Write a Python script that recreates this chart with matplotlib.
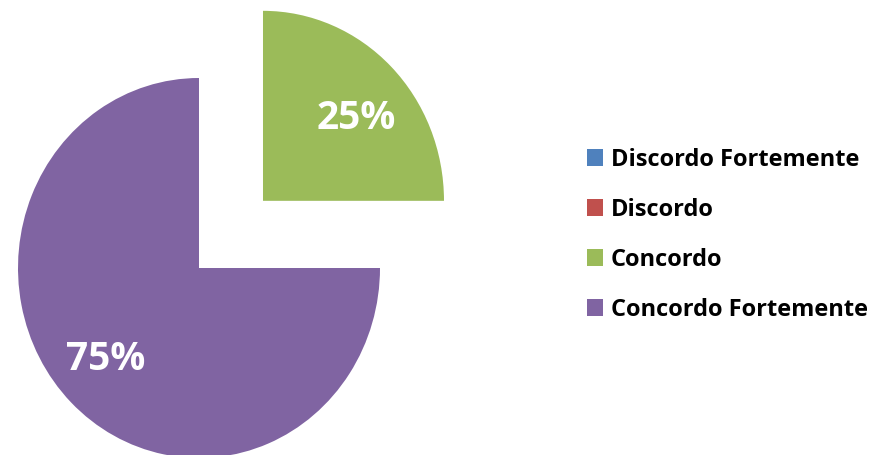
import matplotlib
matplotlib.use("Agg")
import matplotlib.pyplot as plt
from matplotlib.patches import Patch

categories = ["Discordo Fortemente", "Discordo", "Concordo", "Concordo Fortemente"]
values = [0, 0, 25, 75]
colors = ["#4F81BD", "#C0504D", "#9BBB59", "#8064A2"]
explode = [0, 0, 0.5, 0]

W, H = 882, 455
fig = plt.figure(figsize=(W / 100, H / 100), dpi=100)
fig.patch.set_facecolor("white")
ax = fig.add_axes([0, 0, 1, 1])

def fmt(p):
    return f"{p:.0f}%" if p > 0.5 else ""

wedges, texts, autotexts = ax.pie(
    values, colors=colors, explode=explode, startangle=90, counterclock=False,
    autopct=fmt, pctdistance=0.73, wedgeprops=dict(linewidth=0),
    textprops=dict(color="white", fontsize=28, fontweight="bold", family=["Open Sans", "DejaVu Sans"]),
)
# Excel-like label placement: slightly flatter vertical offset
for w, t in zip(wedges, autotexts):
    wx, wy = w.center
    x, y = t.get_position()
    t.set_position((x, wy + (y - wy) * 0.89))
    t.set_va("center_baseline")

# pixel mapping: centre at (199, 268), rx=181 px, ry=190 px
cx, cy, rx, ry = 199, 268, 181, 190
ax.set_aspect("auto")
ax.set_xlim(-cx / rx, (W - cx) / rx)
ax.set_ylim(-(H - cy) / ry, cy / ry)
ax.axis("off")

handles = [Patch(facecolor=c, edgecolor="none") for c in colors]
leg = fig.legend(handles, categories, loc="center left", bbox_to_anchor=(0.641, 0.484),
                 frameon=False, handlelength=0.68, handleheight=0.68, handletextpad=0.35,
                 labelspacing=1.1, prop=dict(family=["Open Sans", "DejaVu Sans"], weight="bold", size=17))

fig.savefig("out.png", dpi=100, facecolor="white")
